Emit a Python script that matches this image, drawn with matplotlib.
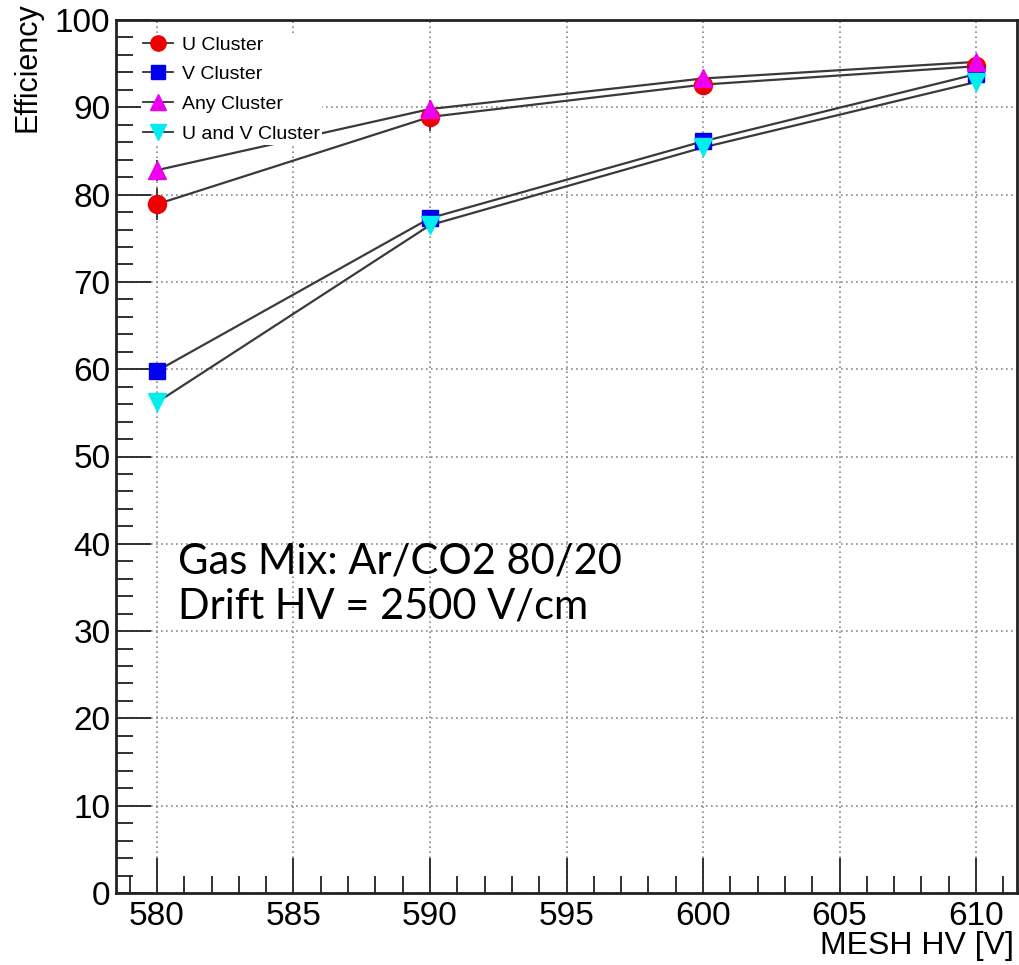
import matplotlib
matplotlib.use("Agg")
import matplotlib.pyplot as plt
import matplotlib.ticker as ticker

# mesh HV points
hv = [580, 590, 600, 610]

u_eff = [78.9, 88.9, 92.6, 94.7]
v_eff = [59.8, 77.3, 86.1, 93.8]
any_eff = [82.8, 89.8, 93.3, 95.2]
uv_eff = [56.2, 76.5, 85.4, 92.9]

u_err = [1.8, 1.6, 0.8, 0.6]
v_err = [0.8, 0.8, 0.6, 0.5]
any_err = [1.2, 1.0, 0.6, 0.5]
uv_err = [0.8, 0.8, 0.6, 0.5]

labels = ["U Cluster", "V Cluster", "Any Cluster", "U and V Cluster"]

plt.rcParams['font.family'] = ['Liberation Sans', 'DejaVu Sans']

fig = plt.figure(figsize=(10.2, 9.65), dpi=100)
ax = fig.add_axes([116/1020, 72/965, 901/1020, 873/965])

series = [
    (u_eff, u_err, 'o', '#ee0000', 13),
    (v_eff, v_err, 's', '#0000ee', 12),
    (any_eff, any_err, '^', '#ee00ee', 13),
    (uv_eff, uv_err, 'v', '#00eeee', 13),
]
handles = []
for (y, err, m, c, ms), lab in zip(series, labels):
    ax.errorbar(hv, y, yerr=err, fmt='none', ecolor='#222222', elinewidth=1.2, zorder=2)
    ax.plot(hv, y, '-', color='#3a3a3a', lw=1.6, zorder=2)
    ax.plot(hv, y, m, color=c, ms=ms, mec=c, zorder=3)
    h, = ax.plot([], [], '-', color='#333333', lw=1.3, marker=m, mfc=c, mec=c, ms=ms - 2)
    handles.append(h)

ax.set_xlim(578.5, 611.5)
ax.set_ylim(0, 100)

ax.xaxis.set_major_locator(ticker.MultipleLocator(5))
ax.xaxis.set_minor_locator(ticker.MultipleLocator(1))
ax.yaxis.set_major_locator(ticker.MultipleLocator(10))
ax.yaxis.set_minor_locator(ticker.MultipleLocator(2))
ax.tick_params(which='both', direction='in', top=False, right=False, width=1.3, color='#222222')
ax.tick_params(which='major', length=25, labelsize=24)
ax.tick_params(axis='x', which='major', pad=6)
ax.tick_params(axis='y', which='major', pad=4)
ax.tick_params(which='minor', length=12)
ax.grid(True, which='major', color='#888888', ls=(0, (1, 2)), lw=1.2)
for s in ax.spines.values():
    s.set_linewidth(2)
    s.set_color('#222222')

leg = ax.legend(handles, labels, loc='upper left',
                bbox_to_anchor=((141 - 116) / 901, (893 - 34) / 873),
                fontsize=14, frameon=True, framealpha=1, edgecolor='none',
                fancybox=False, handlelength=1.55, handletextpad=0.45,
                labelspacing=0.62, borderpad=0.1, borderaxespad=0)
leg.set_zorder(5)

ax.text((178 - 116) / 901, (893 - 584) / 873, "Gas Mix: Ar/CO2 80/20\nDrift HV = 2500 V/cm",
        transform=ax.transAxes, fontsize=30, family=['Lato', 'DejaVu Sans'],
        va='center', ha='left', linespacing=1.25, zorder=6)

fig.text(0.027, 1 - 2/965, "Efficiency", rotation=90, ha='center', va='top', fontsize=22)
fig.text(1014/1020, 11/965, "MESH HV [V]", ha='right', va='baseline', fontsize=23)

fig.savefig("out.png", dpi=100)
